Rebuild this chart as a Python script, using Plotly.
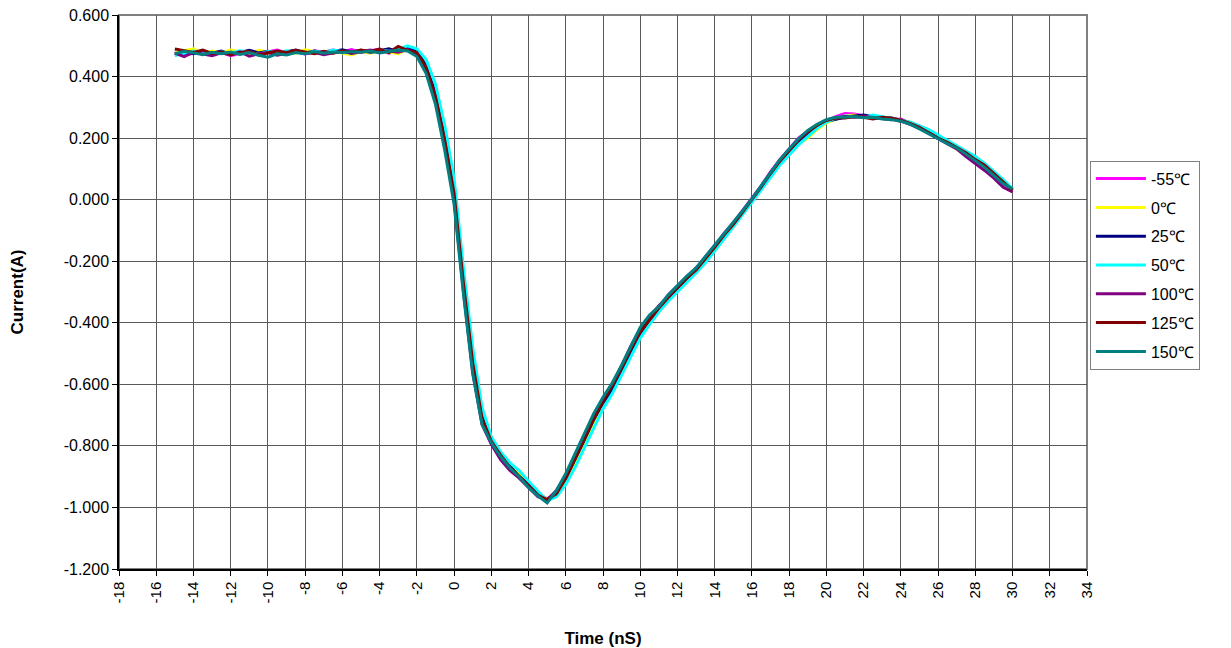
import plotly.graph_objects as go

TIME = [
    -15, -14.5, -14, -13.5, -13, -12.5, -12, -11.5, -11, -10.5,
    -10, -9.5, -9, -8.5, -8, -7.5, -7, -6.5, -6, -5.5,
    -5, -4.5, -4, -3.5, -3, -2.5, -2, -1.5, -1, -0.5,
    0, 0.5, 1, 1.5, 2, 2.5, 3, 3.5, 4, 4.5,
    5, 5.5, 6, 6.5, 7, 7.5, 8, 8.5, 9, 9.5,
    10, 10.5, 11, 11.5, 12, 12.5, 13, 13.5, 14, 14.5,
    15, 15.5, 16, 16.5, 17, 17.5, 18, 18.5, 19, 19.5,
    20, 20.5, 21, 21.5, 22, 22.5, 23, 23.5, 24, 24.5,
    25, 25.5, 26, 26.5, 27, 27.5, 28, 28.5, 29, 29.5,
    30,
]

T_M55 = [
    0.482, 0.470, 0.476, 0.481, 0.472, 0.479, 0.468, 0.476, 0.483, 0.474,
    0.479, 0.486, 0.477, 0.481, 0.473, 0.484, 0.479, 0.486, 0.481, 0.488,
    0.478, 0.484, 0.489, 0.476, 0.486, 0.492, 0.476, 0.425, 0.330, 0.185,
    0.010, -0.280, -0.540, -0.715, -0.790, -0.840, -0.875, -0.895, -0.930, -0.955,
    -0.972, -0.955, -0.900, -0.835, -0.770, -0.705, -0.650, -0.600, -0.545, -0.480,
    -0.425, -0.385, -0.350, -0.310, -0.280, -0.250, -0.225, -0.185, -0.150, -0.110,
    -0.075, -0.035, 0.002, 0.045, 0.090, 0.130, 0.165, 0.200, 0.222, 0.240,
    0.255, 0.270, 0.280, 0.278, 0.272, 0.268, 0.266, 0.260, 0.262, 0.248,
    0.240, 0.222, 0.200, 0.190, 0.172, 0.148, 0.125, 0.110, 0.080, 0.050,
    0.035,
]

T_0 = [
    0.478, 0.485, 0.490, 0.474, 0.483, 0.477, 0.486, 0.480, 0.472, 0.485,
    0.479, 0.474, 0.483, 0.476, 0.487, 0.480, 0.475, 0.484, 0.478, 0.470,
    0.482, 0.476, 0.485, 0.480, 0.474, 0.490, 0.484, 0.440, 0.355, 0.215,
    0.045, -0.250, -0.510, -0.695, -0.780, -0.825, -0.860, -0.890, -0.920, -0.950,
    -0.975, -0.960, -0.915, -0.860, -0.795, -0.730, -0.670, -0.620, -0.560, -0.500,
    -0.445, -0.400, -0.360, -0.325, -0.295, -0.265, -0.235, -0.200, -0.165, -0.125,
    -0.085, -0.045, -0.005, 0.035, 0.080, 0.118, 0.150, 0.182, 0.200, 0.228,
    0.250, 0.262, 0.272, 0.275, 0.270, 0.265, 0.268, 0.262, 0.255, 0.252,
    0.235, 0.220, 0.208, 0.185, 0.165, 0.150, 0.132, 0.105, 0.090, 0.058,
    0.030,
]

T_25 = [
    0.470, 0.478, 0.474, 0.481, 0.476, 0.483, 0.472, 0.478, 0.485, 0.477,
    0.482, 0.475, 0.480, 0.486, 0.477, 0.483, 0.476, 0.481, 0.487, 0.479,
    0.485, 0.478, 0.483, 0.490, 0.481, 0.495, 0.482, 0.435, 0.345, 0.205,
    0.035, -0.260, -0.520, -0.705, -0.785, -0.830, -0.865, -0.900, -0.925, -0.955,
    -0.980, -0.950, -0.905, -0.845, -0.780, -0.715, -0.660, -0.615, -0.555, -0.495,
    -0.435, -0.395, -0.360, -0.325, -0.290, -0.258, -0.230, -0.195, -0.160, -0.118,
    -0.082, -0.040, 0.000, 0.040, 0.082, 0.122, 0.158, 0.190, 0.215, 0.238,
    0.255, 0.262, 0.268, 0.272, 0.275, 0.270, 0.268, 0.265, 0.258, 0.250,
    0.238, 0.225, 0.202, 0.185, 0.170, 0.152, 0.128, 0.110, 0.085, 0.060,
    0.032,
]

T_50 = [
    0.468, 0.475, 0.483, 0.477, 0.471, 0.480, 0.476, 0.484, 0.478, 0.473,
    0.481, 0.477, 0.484, 0.479, 0.474, 0.482, 0.478, 0.486, 0.480, 0.476,
    0.484, 0.480, 0.487, 0.482, 0.488, 0.500, 0.490, 0.455, 0.375, 0.240,
    0.070, -0.220, -0.480, -0.675, -0.770, -0.820, -0.855, -0.880, -0.915, -0.945,
    -0.978, -0.965, -0.925, -0.870, -0.805, -0.740, -0.680, -0.630, -0.570, -0.505,
    -0.450, -0.405, -0.365, -0.330, -0.300, -0.268, -0.238, -0.205, -0.168, -0.128,
    -0.088, -0.048, -0.008, 0.032, 0.075, 0.112, 0.145, 0.178, 0.205, 0.232,
    0.252, 0.265, 0.272, 0.270, 0.268, 0.275, 0.270, 0.265, 0.258, 0.252,
    0.240, 0.228, 0.210, 0.192, 0.175, 0.158, 0.140, 0.118, 0.092, 0.065,
    0.035,
]

T_100 = [
    0.476, 0.465, 0.479, 0.473, 0.468, 0.477, 0.470, 0.480, 0.466, 0.474,
    0.478, 0.469, 0.476, 0.482, 0.474, 0.479, 0.471, 0.478, 0.483, 0.475,
    0.480, 0.486, 0.478, 0.483, 0.479, 0.488, 0.470, 0.415, 0.320, 0.175,
    0.000, -0.295, -0.560, -0.730, -0.795, -0.845, -0.880, -0.905, -0.935, -0.965,
    -0.975, -0.945, -0.895, -0.830, -0.765, -0.700, -0.645, -0.600, -0.540, -0.475,
    -0.420, -0.380, -0.345, -0.315, -0.282, -0.252, -0.222, -0.188, -0.150, -0.112,
    -0.078, -0.038, 0.002, 0.042, 0.088, 0.128, 0.162, 0.195, 0.222, 0.242,
    0.258, 0.266, 0.270, 0.268, 0.272, 0.266, 0.264, 0.262, 0.255, 0.245,
    0.232, 0.215, 0.198, 0.180, 0.165, 0.140, 0.118, 0.095, 0.070, 0.040,
    0.025,
]

T_125 = [
    0.490, 0.484, 0.478, 0.486, 0.475, 0.480, 0.472, 0.478, 0.482, 0.470,
    0.476, 0.483, 0.478, 0.485, 0.480, 0.474, 0.482, 0.476, 0.484, 0.479,
    0.486, 0.481, 0.489, 0.478, 0.498, 0.485, 0.478, 0.428, 0.335, 0.192,
    0.020, -0.270, -0.530, -0.710, -0.785, -0.830, -0.870, -0.898, -0.928, -0.960,
    -0.975, -0.955, -0.905, -0.842, -0.778, -0.712, -0.655, -0.605, -0.548, -0.485,
    -0.430, -0.390, -0.352, -0.318, -0.285, -0.255, -0.228, -0.192, -0.155, -0.115,
    -0.080, -0.040, 0.000, 0.042, 0.085, 0.125, 0.160, 0.195, 0.220, 0.242,
    0.258, 0.265, 0.265, 0.270, 0.268, 0.262, 0.268, 0.265, 0.258, 0.248,
    0.235, 0.218, 0.200, 0.186, 0.170, 0.152, 0.130, 0.112, 0.085, 0.058,
    0.030,
]

T_150 = [
    0.474, 0.482, 0.477, 0.471, 0.479, 0.474, 0.480, 0.472, 0.478, 0.469,
    0.463, 0.474, 0.470, 0.478, 0.474, 0.481, 0.476, 0.480, 0.478, 0.481,
    0.479, 0.483, 0.477, 0.482, 0.486, 0.483, 0.465, 0.410, 0.310, 0.160,
    -0.015, -0.305, -0.565, -0.730, -0.790, -0.835, -0.872, -0.900, -0.935, -0.962,
    -0.985, -0.945, -0.890, -0.825, -0.760, -0.695, -0.642, -0.595, -0.538, -0.475,
    -0.415, -0.375, -0.348, -0.310, -0.278, -0.248, -0.222, -0.185, -0.148, -0.110,
    -0.075, -0.036, 0.003, 0.045, 0.090, 0.130, 0.165, 0.198, 0.225, 0.245,
    0.260, 0.268, 0.268, 0.270, 0.266, 0.268, 0.262, 0.260, 0.255, 0.245,
    0.230, 0.215, 0.198, 0.182, 0.168, 0.148, 0.125, 0.105, 0.078, 0.052,
    0.035,
]

SERIES_NAMES = ["-55℃", "0℃", "25℃", "50℃", "100℃", "125℃", "150℃"]
SERIES_VALUES = [T_M55, T_0, T_25, T_50, T_100, T_125, T_150]
SERIES_COLORS = ["#FF00FF", "#FFFF00", "#000080", "#00FFFF", "#800080", "#800000", "#008080"]

X_TICKS = list(range(-18, 35, 2))
X_TICK_TEXT = [str(v) for v in X_TICKS]
Y_TICKS = [0.6, 0.4, 0.2, 0.0, -0.2, -0.4, -0.6, -0.8, -1.0, -1.2]
Y_TICK_TEXT = ["0.600", "0.400", "0.200", "0.000", "-0.200", "-0.400", "-0.600",
               "-0.800", "-1.000", "-1.200"]

FONT = "Liberation Sans, Arial, sans-serif"

fig = go.Figure()
for name, vals, col in zip(SERIES_NAMES, SERIES_VALUES, SERIES_COLORS):
    fig.add_trace(go.Scatter(
        x=TIME, y=vals, mode="lines", name=name, legendgroup=name,
        line=dict(color=col, width=3),
    ))

# page body adds ~8px offset; figure sized to fill the remaining window
fig.update_layout(
    width=1223, height=640,
    margin=dict(l=111, r=144, t=7, b=79, autoexpand=False),
    paper_bgcolor="white", plot_bgcolor="white",
    font=dict(family=FONT, size=14, color="black"),
    showlegend=True,
    legend=dict(
        x=1.003, xanchor="left", y=0.737, yanchor="top",
        bordercolor="#808080", borderwidth=1, bgcolor="white",
        font=dict(family=FONT, size=16, color="black"),
        tracegroupgap=5, itemwidth=50,
    ),
    xaxis=dict(
        range=[-18, 34], tickmode="array", tickvals=X_TICKS, ticktext=X_TICK_TEXT,
        tickangle=-90, ticks="outside", ticklen=5, tickcolor="black",
        showline=True, linecolor="black", linewidth=1.5, automargin=False,
        showgrid=True, gridcolor="#5a5a5a", gridwidth=1, zeroline=False,
        ticklabeloverflow="allow",
        title=dict(text="<b>Time (nS)</b>", font=dict(family=FONT, size=17), standoff=30),
        tickfont=dict(family=FONT, size=15),
    ),
    yaxis=dict(
        range=[-1.2, 0.6], tickmode="array", tickvals=Y_TICKS, ticktext=Y_TICK_TEXT,
        ticks="outside", ticklen=5, tickcolor="black",
        showline=True, linecolor="black", linewidth=1.5, automargin=False,
        showgrid=True, gridcolor="#5a5a5a", gridwidth=1, zeroline=False,
        ticklabeloverflow="allow",
        title=dict(text="<b>Current(A)</b>", font=dict(family=FONT, size=17), standoff=36),
        tickfont=dict(family=FONT, size=16),
    ),
    shapes=[dict(type="rect", xref="paper", yref="paper", x0=0, y0=0, x1=1, y1=1,
                 line=dict(color="#808080", width=2), layer="below")],
)

fig.write_html("out.html")
